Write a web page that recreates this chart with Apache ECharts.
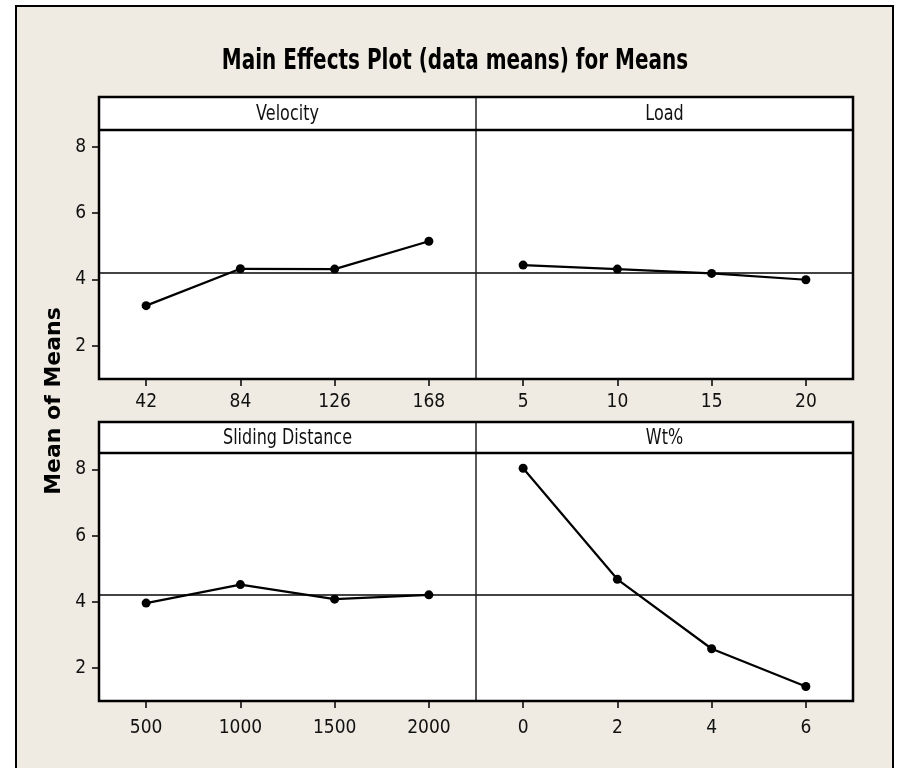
<!DOCTYPE html>
<html>
<head>
<meta charset="utf-8">
<script src="https://cdn.jsdelivr.net/npm/echarts@6/dist/echarts.min.js"></script>
<style>
html,body{margin:0;padding:0;background:#fff;}
#main{width:897px;height:768px;}
</style>
</head>
<body>
<div id="main"></div>
<script>
// ---- data ----
const velocityCats = ['42', '84', '126', '168'];
const velocityMeans = [3.21, 4.32, 4.31, 5.15];
const loadCats = ['5', '10', '15', '20'];
const loadMeans = [4.43, 4.31, 4.18, 3.99];
const distanceCats = ['500', '1000', '1500', '2000'];
const distanceMeans = [3.96, 4.52, 4.08, 4.21];
const wtCats = ['0', '2', '4', '6'];
const wtMeans = [8.04, 4.68, 2.58, 1.44];
const grandMean = 4.2;
const yTicks = [2, 4, 6, 8];
const panelTitles = ['Velocity', 'Load', 'Sliding Distance', 'Wt%'];
const chartTitle = 'Main Effects Plot (data means) for Means';
const yAxisTitle = 'Mean of Means';

// ---- layout ----
const tickFont = '"DejaVu Sans Condensed", "Liberation Sans Narrow", "DejaVu Sans", sans-serif';
const L = 99, MID = 476, R = 853;
const rows = [
  {head: 97, top: 130, bottom: 379},
  {head: 422, top: 453, bottom: 701}
];
const panels = [
  {cats: velocityCats, vals: velocityMeans, row: 0, col: 0},
  {cats: loadCats, vals: loadMeans, row: 0, col: 1},
  {cats: distanceCats, vals: distanceMeans, row: 1, col: 0},
  {cats: wtCats, vals: wtMeans, row: 1, col: 1}
];

const grids = [], xAxes = [], yAxes = [], series = [];
panels.forEach((p, i) => {
  const r = rows[p.row];
  grids.push({
    left: p.col === 0 ? L : MID,
    top: r.top,
    width: (p.col === 0 ? MID - L : R - MID),
    height: r.bottom - r.top,
    show: true, backgroundColor: '#fff', borderWidth: 0
  });
  xAxes.push({
    type: 'category', gridIndex: i, data: p.cats, boundaryGap: true,
    axisLine: {show: false},
    axisTick: {show: true, alignWithLabel: true, length: 7, lineStyle: {color: '#000', width: 1.5}},
    axisLabel: {color: '#111', fontSize: 19, fontFamily: tickFont, margin: p.row === 0 ? 14 : 18},
    splitLine: {show: false}
  });
  const left = p.col === 0;
  yAxes.push({
    type: 'value', gridIndex: i, min: 1, max: 8.5,
    show: left,
    axisLine: {show: false},
    axisTick: {show: true, length: 7, customValues: yTicks, lineStyle: {color: '#000', width: 1.5}},
    axisLabel: {color: '#111', fontSize: 19, fontFamily: tickFont, margin: 13, customValues: yTicks},
    splitLine: {show: false}
  });
  series.push({
    type: 'line', xAxisIndex: i, yAxisIndex: i, data: p.vals,
    symbol: 'circle', symbolSize: 9,
    itemStyle: {color: '#000'},
    lineStyle: {color: '#000', width: 2.2},
    z: 5,
    markLine: {
      silent: true, symbol: ['none', 'none'], label: {show: false},
      lineStyle: {color: '#444', width: 1.8, type: 'solid'},
      data: [{yAxis: grandMean}]
    }
  });
});

const graphics = [];
graphics.push({
  type: 'rect', z: -10, silent: true,
  shape: {x: 16, y: 6, width: 877, height: 800},
  style: {fill: '#EFEBE2', stroke: '#000', lineWidth: 2}
});
rows.forEach((r, ri) => {
  graphics.push({
    type: 'rect', z: 50, silent: true,
    shape: {x: L, y: r.head, width: R - L, height: r.top - r.head},
    style: {fill: '#fff'}
  });
  graphics.push({
    type: 'line', z: 100, silent: true,
    shape: {x1: MID, y1: r.head, x2: MID, y2: r.bottom},
    style: {stroke: '#222', lineWidth: 1.5}
  });
  graphics.push({
    type: 'line', z: 100, silent: true,
    shape: {x1: L, y1: r.top, x2: R, y2: r.top},
    style: {stroke: '#000', lineWidth: 2.5}
  });
  graphics.push({
    type: 'rect', z: 100, silent: true,
    shape: {x: L, y: r.head, width: R - L, height: r.bottom - r.head},
    style: {fill: 'none', stroke: '#000', lineWidth: 2.5}
  });
});
panels.forEach((p, i) => {
  const r = rows[p.row];
  const cx = p.col === 0 ? (L + MID) / 2 : (MID + R) / 2;
  graphics.push({
    type: 'text', z: 110, silent: true,
    x: cx, y: (r.head + r.top) / 2 + 1, scaleY: 1.37,
    style: {text: panelTitles[i], font: '16px "DejaVu Sans", sans-serif', fill: '#111',
      textAlign: 'center', textVerticalAlign: 'middle', align: 'center', verticalAlign: 'middle'}
  });
});
graphics.push({
  type: 'text', z: 110, silent: true,
  x: 455, y: 62, scaleY: 1.44,
  style: {text: chartTitle, font: 'bold 20px "DejaVu Sans", sans-serif', fill: '#000',
    textAlign: 'center', textVerticalAlign: 'middle', align: 'center', verticalAlign: 'middle'}
});
graphics.push({
  type: 'text', z: 110, silent: true,
  x: 54, y: 401, rotation: Math.PI / 2,
  style: {text: yAxisTitle, font: 'bold 22px "DejaVu Sans", sans-serif', fill: '#000',
    textAlign: 'center', textVerticalAlign: 'middle', align: 'center', verticalAlign: 'middle'}
});

const chart = echarts.init(document.getElementById('main'), null, {renderer: 'canvas'});
chart.setOption({
  backgroundColor: '#fff',
  animation: false,
  grid: grids,
  xAxis: xAxes,
  yAxis: yAxes,
  series: series,
  graphic: {elements: graphics}
});
</script>
</body>
</html>
